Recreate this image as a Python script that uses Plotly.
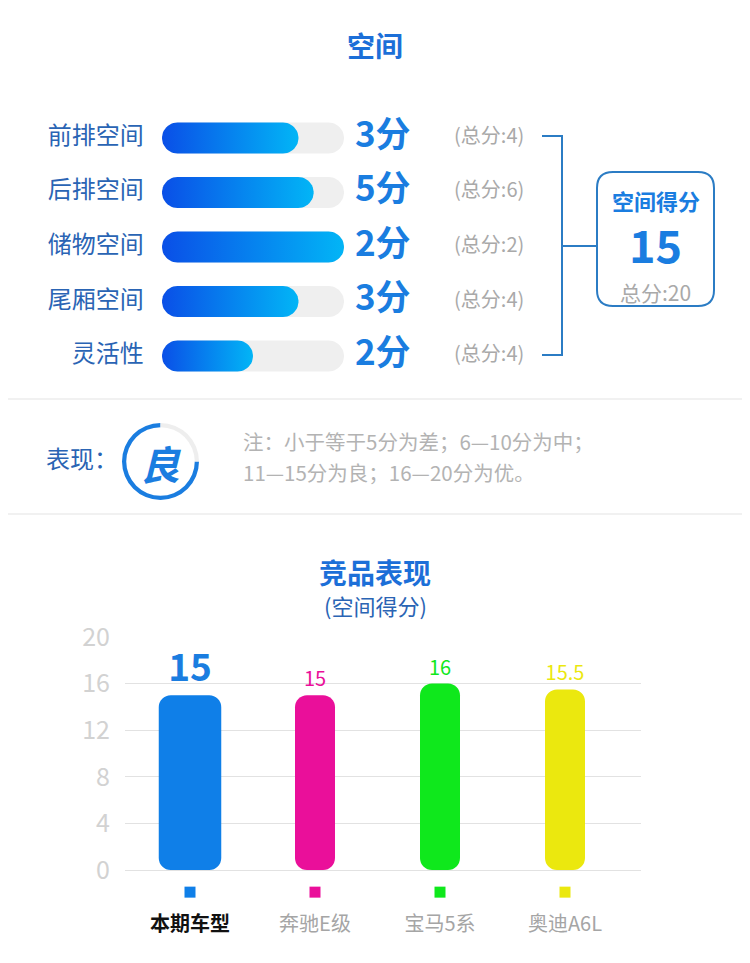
import numpy as np
import plotly.graph_objects as go

# the page keeps an 8px body margin, so the figure is sized to the space left
W, H = 750, 963
OFF = 8
FIG_W, FIG_H = W - 2 * OFF, H - OFF
FONT = "Noto Sans CJK SC"
BLUE = "#1a7de0"
TITLE_BLUE = "#1c6fd8"
LABEL_BLUE = "#2a64b4"
LINE_BLUE = "#2b7cc4"
GRAY_TXT = "#a9a9a9"

# space sub-scores
items = ["前排空间", "后排空间", "储物空间", "尾厢空间", "灵活性"]
scores = [3, 5, 2, 3, 2]
totals = [4, 6, 2, 4, 4]
space_score = 15
space_total = 20
grade = "良"
note_lines = ["注：小于等于5分为差；6—10分为中；", "11—15分为良；16—20分为优。"]

# competitor chart
models = ["本期车型", "奔驰E级", "宝马5系", "奥迪A6L"]
model_scores = [15, 15, 16, 15.5]
model_colors = ["#0f7fe8", "#ea0f9a", "#0fe81c", "#ebe80e"]
y_ticks = [0, 4, 8, 12, 16, 20]


def px(x):
    return (x - OFF) / FIG_W


def py(y):
    return 1 - (y - OFF) / FIG_H


# progress axis: 0 = track start, 1 = track end; axis spans the full width
TRACK_X0, TRACK_X1 = 162, 344
ROW_Y0, ROW_Y1 = 111, 383
x_unit = TRACK_X1 - TRACK_X0
x2_range = [(OFF - TRACK_X0) / x_unit, (OFF + FIG_W - TRACK_X0) / x_unit]
y_range = [4.495, -0.495]
y_unit = (ROW_Y1 - ROW_Y0) / (y_range[0] - y_range[1])


def capsule(x0, x1, yc, half=15.5):
    rx, ry = half / x_unit, half / y_unit
    t = np.linspace(-np.pi / 2, np.pi / 2, 24)
    t2 = np.linspace(np.pi / 2, 3 * np.pi / 2, 24)
    xs = np.concatenate([x1 - rx + rx * np.cos(t), x0 + rx + rx * np.cos(t2)])
    ys = np.concatenate([yc + ry * np.sin(t), yc + ry * np.sin(t2)])
    return np.append(xs, xs[0]), np.append(ys, ys[0])


fig = go.Figure()

rows = list(range(len(items)))
for i, (s, t) in enumerate(zip(scores, totals)):
    tx, ty = capsule(0, 1, i)
    fig.add_trace(go.Scatter(x=tx, y=ty, xaxis="x2", yaxis="y2", mode="lines",
                             fill="toself", fillcolor="#efefef", line=dict(width=0),
                             hoverinfo="skip", showlegend=False))
    fx, fy = capsule(0, s / t, i)
    fig.add_trace(go.Scatter(x=fx, y=fy, xaxis="x2", yaxis="y2", mode="lines",
                             fill="toself", line=dict(width=0),
                             fillgradient=dict(type="horizontal",
                                               colorscale=[[0, "#0a4fe7"], [1, "#02b5f6"]]),
                             hoverinfo="skip", showlegend=False))

fig.add_trace(go.Scatter(x=[-0.1] * len(items), y=rows, xaxis="x2", yaxis="y2",
                         mode="text", text=items, textposition="middle left",
                         textfont=dict(size=24, color=LABEL_BLUE, family=FONT),
                         hoverinfo="skip", showlegend=False))
fig.add_trace(go.Scatter(x=[1.06] * len(items), y=rows, xaxis="x2", yaxis="y2",
                         mode="text", text=[f"<b>{s}分</b>" for s in scores],
                         textposition="middle right",
                         textfont=dict(size=35, color=BLUE, family=FONT),
                         hoverinfo="skip", showlegend=False))
fig.add_trace(go.Scatter(x=[1.605] * len(items), y=rows, xaxis="x2", yaxis="y2",
                         mode="text", text=[f"(总分:{t})" for t in totals],
                         textposition="middle right",
                         textfont=dict(size=20, color=GRAY_TXT, family=FONT),
                         hoverinfo="skip", showlegend=False))

# grade ring: blue share starts at 3 o'clock, grey remainder closes at 12
fig.add_trace(go.Pie(values=[space_score, space_total - space_score],
                     marker=dict(colors=[BLUE, "#eeeeee"], line=dict(width=0)),
                     hole=0.89, sort=False, direction="clockwise", rotation=90,
                     textinfo="none", hoverinfo="skip", showlegend=False,
                     domain=dict(x=[px(122), px(199)], y=[py(500), py(423)])))

# competitor bars (explicit base -> all four corners rounded)
widths = [0.5, 0.32, 0.32, 0.32]
labels = [f"<b>{v:g}</b>" if i == 0 else f"{v:g}" for i, v in enumerate(model_scores)]
fig.add_trace(go.Bar(x=models, y=model_scores, base=[0] * len(models), width=widths,
                     marker=dict(color=model_colors, cornerradius=12, line=dict(width=0)),
                     text=labels, textposition="outside", cliponaxis=False,
                     textfont=dict(size=[37, 20, 20, 20], color=[BLUE] + model_colors[1:],
                                   family=FONT),
                     hoverinfo="skip", showlegend=False))
fig.add_trace(go.Scatter(x=models, y=[-1.9] * len(models), mode="markers",
                         marker=dict(symbol="square", size=11, color=model_colors),
                         hoverinfo="skip", showlegend=False))

tick_text = [f"<span style='color:#111'><b>{models[0]}</b></span>"] + models[1:]

shapes = [
    dict(type="line", xref="paper", yref="paper", x0=0, x1=1, y0=py(399), y1=py(399),
         line=dict(color="#ededed", width=1.5)),
    dict(type="line", xref="paper", yref="paper", x0=0, x1=1, y0=py(514), y1=py(514),
         line=dict(color="#ededed", width=1.5)),
    dict(type="path", xref="paper", yref="paper",
         path=f"M {px(542)},{py(136)} L {px(562)},{py(136)} L {px(562)},{py(355)} L {px(542)},{py(355)}",
         line=dict(color=LINE_BLUE, width=2)),
    dict(type="line", xref="paper", yref="paper", x0=px(562), x1=px(597), y0=py(246), y1=py(246),
         line=dict(color=LINE_BLUE, width=2)),
]

# rounded score box
bx0, bx1, by0, by1, r = 597, 714, 172, 306, 16
box_path = (
    f"M {px(bx0 + r)},{py(by0)} L {px(bx1 - r)},{py(by0)} "
    f"Q {px(bx1)},{py(by0)} {px(bx1)},{py(by0 + r)} L {px(bx1)},{py(by1 - r)} "
    f"Q {px(bx1)},{py(by1)} {px(bx1 - r)},{py(by1)} L {px(bx0 + r)},{py(by1)} "
    f"Q {px(bx0)},{py(by1)} {px(bx0)},{py(by1 - r)} L {px(bx0)},{py(by0 + r)} "
    f"Q {px(bx0)},{py(by0)} {px(bx0 + r)},{py(by0)} Z"
)
shapes.append(dict(type="path", xref="paper", yref="paper", path=box_path,
                   line=dict(color=LINE_BLUE, width=2)))


def note(text, x, y, size, color, anchor="center"):
    return dict(text=text, x=px(x), y=py(y), xref="paper", yref="paper",
                xanchor=anchor, yanchor="middle", showarrow=False,
                font=dict(size=size, color=color, family=FONT))


annotations = [
    note("<b>空间</b>", 375, 45, 28, TITLE_BLUE),
    note("<b>空间得分</b>", 655.5, 200, 22, BLUE),
    note(f"<b>{space_score}</b>", 655.5, 244, 45, BLUE),
    note(f"总分:{space_total}", 655.5, 292, 21, GRAY_TXT),
    note("表现：", 44, 458, 24, LABEL_BLUE, "left"),
    note(f"<b><i>{grade}</i></b>", 160, 463, 40, BLUE),
    note(note_lines[0], 241, 441, 20.5, "#b3b3b3", "left"),
    note(note_lines[1], 241, 472, 20.5, "#b3b3b3", "left"),
    note("<b>竞品表现</b>", 375, 572, 28, TITLE_BLUE),
    note("(空间得分)", 375, 605, 22, LABEL_BLUE),
]

# bar chart y axis: 0 at 870px, 20 at 637px, extended below for the colour dots
y_px_per_unit = (870 - 637) / 20
y_bottom = -3
bar_bottom_px = 870 - y_bottom * y_px_per_unit
x_px_per_cat = 125
x_range = [(125 - 190) / x_px_per_cat, (641 - 190) / x_px_per_cat]

fig.update_layout(
    width=FIG_W, height=FIG_H,
    margin=dict(l=0, r=0, t=0, b=0, autoexpand=False),
    paper_bgcolor="white", plot_bgcolor="white",
    font=dict(family=FONT),
    barmode="overlay",
    hovermode=False,
    shapes=shapes,
    annotations=annotations,
    xaxis=dict(domain=[px(125), px(641)], range=x_range,
               tickvals=models, ticktext=tick_text, ticks="",
               tickfont=dict(size=20, color="#a5a5a5", family=FONT),
               ticklabelstandoff=5, showgrid=False, zeroline=False,
               showline=False, automargin=False, fixedrange=True),
    yaxis=dict(domain=[py(bar_bottom_px), py(637)], range=[y_bottom, 20], tickvals=y_ticks,
               tickfont=dict(size=25, color="#d2d2d2", family=FONT),
               ticklabelstandoff=14, gridcolor="#e2e2e2", gridwidth=1,
               zeroline=False, showline=False, automargin=False, fixedrange=True),
    xaxis2=dict(domain=[0, 1], range=x2_range, visible=False,
                anchor="y2", automargin=False, fixedrange=True),
    yaxis2=dict(domain=[py(ROW_Y1), py(ROW_Y0)], range=y_range, visible=False,
                anchor="x2", automargin=False, fixedrange=True),
)

fig.write_html("out.html")
